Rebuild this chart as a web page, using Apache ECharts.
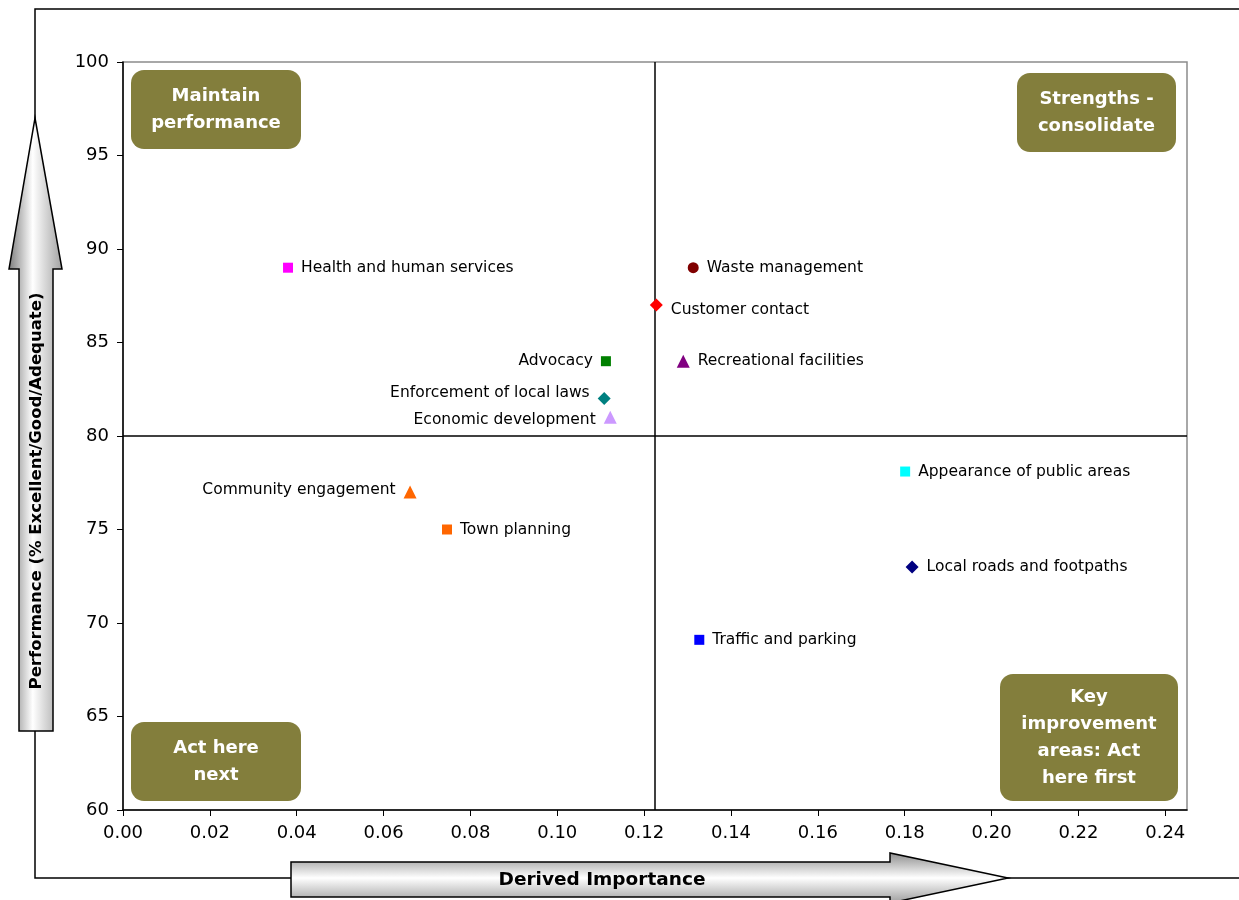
<!DOCTYPE html>
<html>
<head>
<meta charset="utf-8">
<title>Importance vs Performance</title>
<script src="https://cdn.jsdelivr.net/npm/echarts@6/dist/echarts.min.js"></script>
<style>
  html, body { margin: 0; padding: 0; background: #fff; }
  #chart { width: 1239px; height: 900px; }
</style>
</head>
<body>
<div id="chart"></div>
<script>
// service areas, derived importance (x) and performance (y)
const services = [
  'Health and human services', 'Waste management', 'Customer contact', 'Advocacy',
  'Recreational facilities', 'Enforcement of local laws', 'Economic development',
  'Community engagement', 'Town planning', 'Appearance of public areas',
  'Local roads and footpaths', 'Traffic and parking'
];
const importance = [0.038, 0.1313, 0.1228, 0.1112, 0.129, 0.1108, 0.1122, 0.0661, 0.0746, 0.1801, 0.1817, 0.1327];
const performance = [89, 89, 87, 84, 84, 82, 81, 77, 75, 78.1, 73, 69.1];
const xTicks = [0, 0.02, 0.04, 0.06, 0.08, 0.1, 0.12, 0.14, 0.16, 0.18, 0.2, 0.22, 0.24];
const yTicks = [60, 65, 70, 75, 80, 85, 90, 95, 100];
const quadrantX = 0.1225;
const quadrantY = 80;

// marker look and label side per service
const markerStyle = [
  { symbol: 'rect', color: '#FF00FF', side: 'right' },
  { symbol: 'circle', color: '#800000', side: 'right' },
  { symbol: 'diamond', color: '#FF0000', side: 'right', dy: 5 },
  { symbol: 'rect', color: '#008000', side: 'left' },
  { symbol: 'triangle', color: '#800080', side: 'right' },
  { symbol: 'diamond', color: '#008080', side: 'left', dy: -6 },
  { symbol: 'triangle', color: '#CC99FF', side: 'left', dy: 3 },
  { symbol: 'triangle', color: '#FF6600', side: 'left', dy: -2 },
  { symbol: 'rect', color: '#FF6600', side: 'right' },
  { symbol: 'rect', color: '#00FFFF', side: 'right' },
  { symbol: 'diamond', color: '#000080', side: 'right' },
  { symbol: 'rect', color: '#0000FF', side: 'right' }
];

const FONT = '"DejaVu Sans", Arial, sans-serif';
const OLIVE = '#837E3C';
const SIZES = { rect: 10, circle: 11, diamond: 13, triangle: 13 };

const chart = echarts.init(document.getElementById('chart'));

const series = services.map((name, i) => {
  const st = markerStyle[i];
  return {
    name: name,
    type: 'scatter',
    symbol: st.symbol,
    symbolSize: SIZES[st.symbol],
    itemStyle: { color: st.color, opacity: 1 },
    label: {
      show: true,
      formatter: '{a}',
      position: st.side,
      distance: 8,
      offset: [0, st.dy || 0],
      fontFamily: FONT,
      fontSize: 15.5,
      color: '#000'
    },
    data: [[importance[i], performance[i]]],
    z: 5
  };
});

// quadrant divider lines
const divider = {
  type: 'line',
  silent: true,
  symbol: 'none',
  lineStyle: { color: '#000', width: 1.5 },
  z: 3
};
series.push(Object.assign({}, divider, { data: [[quadrantX, 60], [quadrantX, 100]] }));
series.push(Object.assign({}, divider, { data: [[0, quadrantY], [0.245, quadrantY]] }));

function box(x, y, w, h, text) {
  return {
    type: 'group',
    z: 10,
    children: [
      { type: 'rect', shape: { x: x, y: y, width: w, height: h, r: 13 }, style: { fill: OLIVE } },
      {
        type: 'text',
        x: x + w / 2,
        y: y + h / 2,
        style: {
          text: text,
          fill: '#fff',
          font: 'bold 18px ' + FONT,
          align: 'center',
          verticalAlign: 'middle',
          lineHeight: 27
        }
      }
    ]
  };
}

const grayGradV = new echarts.graphic.LinearGradient(0, 0, 1, 0, [
  { offset: 0, color: '#7a7a7a' },
  { offset: 0.45, color: '#ffffff' },
  { offset: 1, color: '#a0a0a0' }
]);
const grayGradH = new echarts.graphic.LinearGradient(0, 0, 0, 1, [
  { offset: 0, color: '#8a8a8a' },
  { offset: 0.5, color: '#ffffff' },
  { offset: 1, color: '#9a9a9a' }
]);

const option = {
  animation: false,
  backgroundColor: '#fff',
  grid: {
    left: 123,
    top: 62,
    right: 52,
    bottom: 90,
    show: true,
    borderColor: '#8c8c8c',
    borderWidth: 1.5
  },
  xAxis: {
    type: 'value',
    min: 0,
    max: 0.245,
    interval: 0.02,
    splitLine: { show: false },
    axisLine: { lineStyle: { color: '#000', width: 1.5 } },
    axisTick: { show: true, length: 6, customValues: xTicks, lineStyle: { color: '#000' } },
    axisLabel: {
      customValues: xTicks,
      margin: 14,
      fontFamily: FONT,
      fontSize: 18,
      color: '#000',
      formatter: v => v.toFixed(2)
    }
  },
  yAxis: {
    type: 'value',
    min: 60,
    max: 100,
    interval: 5,
    splitLine: { show: false },
    axisLine: { lineStyle: { color: '#000', width: 1.5 } },
    axisTick: { show: true, length: 6, customValues: yTicks, lineStyle: { color: '#000' } },
    axisLabel: {
      customValues: yTicks,
      margin: 14,
      fontFamily: FONT,
      fontSize: 18,
      color: '#000'
    }
  },
  series: series,
  graphic: [
    // outer frame
    {
      type: 'polyline', z: 1,
      shape: { points: [[1239, 9], [35, 9], [35, 878], [1239, 878]] },
      style: { stroke: '#000', lineWidth: 1.5, fill: null }
    },
    // vertical axis arrow
    {
      type: 'polygon', z: 3,
      shape: { points: [[35, 118], [62, 269], [53, 269], [53, 731], [19, 731], [19, 269], [9, 269]] },
      style: { fill: grayGradV, stroke: '#000', lineWidth: 1.5 }
    },
    {
      type: 'text', z: 4,
      x: 37, y: 491, rotation: Math.PI / 2,
      style: {
        text: 'Performance (% Excellent/Good/Adequate)',
        font: 'bold 16.5px ' + FONT,
        fill: '#000',
        align: 'center',
        verticalAlign: 'middle'
      }
    },
    // horizontal axis arrow
    {
      type: 'polygon', z: 3,
      shape: { points: [[291, 862], [890, 862], [890, 853], [1008, 878], [890, 903], [890, 897], [291, 897]] },
      style: { fill: grayGradH, stroke: '#000', lineWidth: 1.5 }
    },
    {
      type: 'text', z: 4,
      x: 602, y: 880,
      style: {
        text: 'Derived Importance',
        font: 'bold 18.5px ' + FONT,
        fill: '#000',
        align: 'center',
        verticalAlign: 'middle'
      }
    },
    box(131, 70, 170, 79, 'Maintain\nperformance'),
    box(1017, 73, 159, 79, 'Strengths -\nconsolidate'),
    box(131, 722, 170, 79, 'Act here\nnext'),
    box(1000, 674, 178, 127, 'Key\nimprovement\nareas: Act\nhere first')
  ]
};

chart.setOption(option);
</script>
</body>
</html>
